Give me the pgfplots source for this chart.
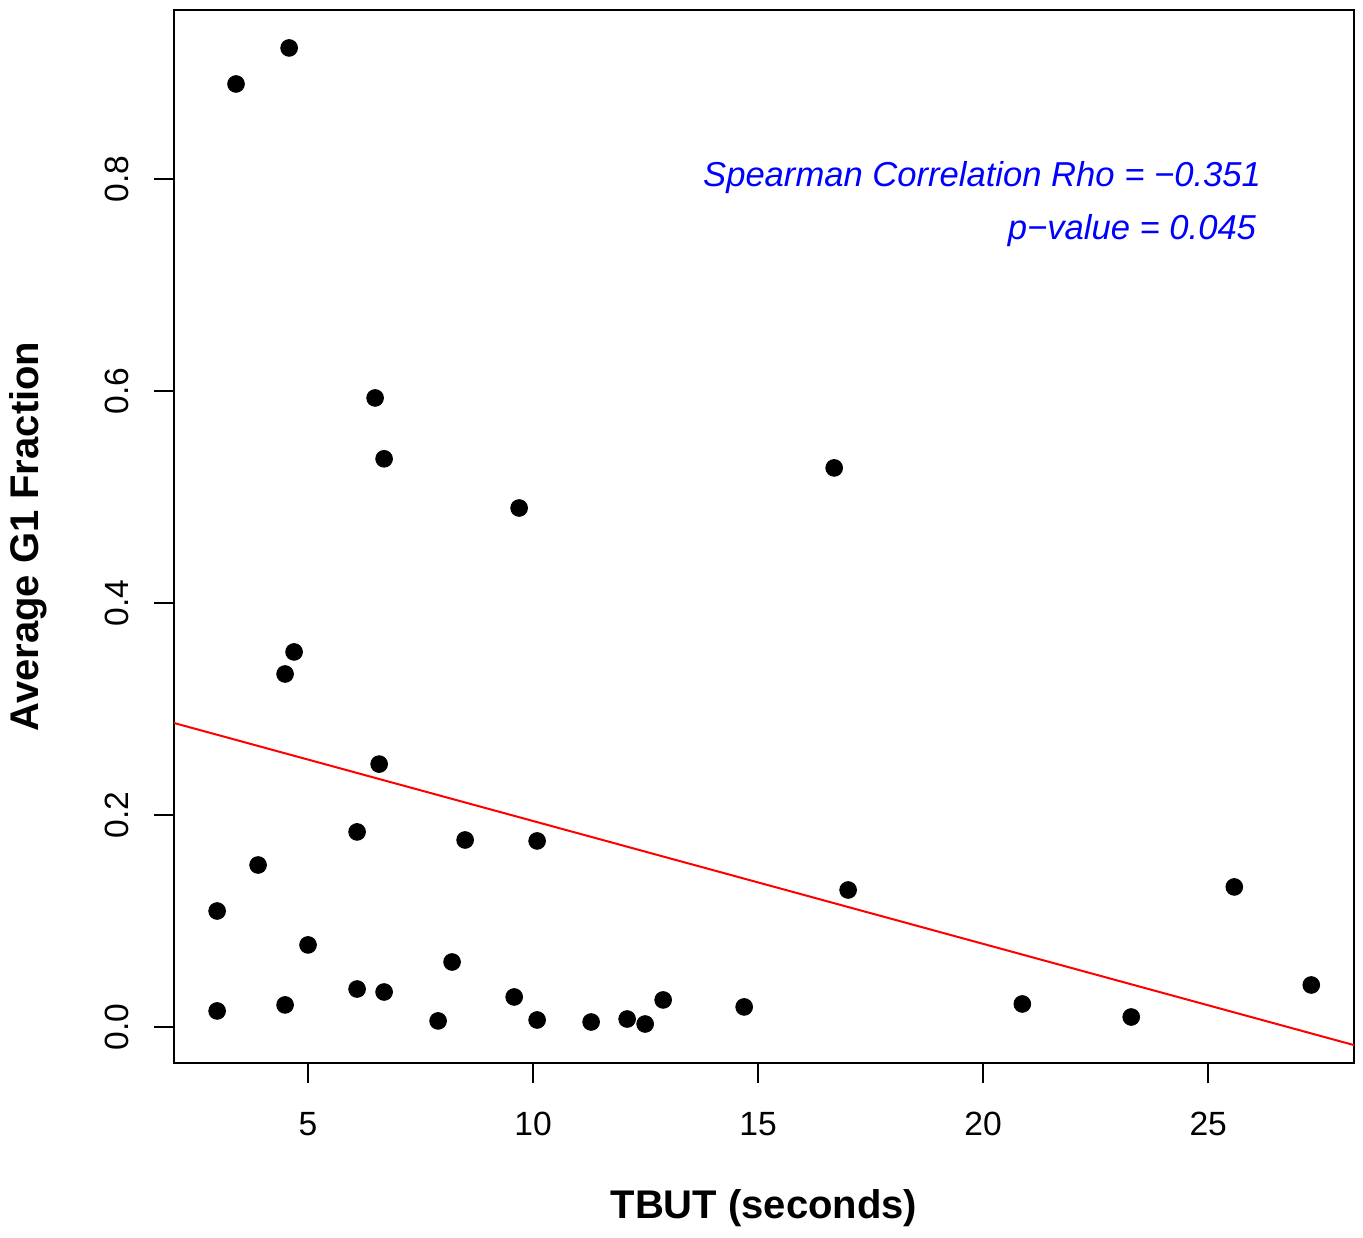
\documentclass[border=0pt]{standalone}
\usepackage{pgfplots}
\pgfplotsset{compat=1.18}
\usepackage{fontspec}
\setmainfont{Liberation Sans}
\begin{document}
\begin{tikzpicture}
\useasboundingbox (-87pt,-87pt) rectangle (594.5pt,531.5pt);
\begin{axis}[
  at={(0,0)}, anchor=south west,
  width=590pt, height=526.5pt, scale only axis,
  xmin=2.022, xmax=28.24, ymin=-0.034, ymax=0.9594,
  axis line style={line width=1.2pt},
  every tick/.style={black, line width=1.2pt},
  tick pos=left,
  tick align=outside, major tick length=10pt,
  xtick={5,10,15,20,25}, ytick={0,0.2,0.4,0.6,0.8},
  yticklabels={0.0,0.2,0.4,0.6,0.8},
  /pgf/number format/assume math mode=true,
  tick label style={font=\fontsize{16.8}{19}\selectfont},
  xticklabel style={yshift=-11pt},
  yticklabel style={rotate=90, anchor=south, yshift=9pt},
  xlabel={\textbf{TBUT (seconds)}},
  ylabel={\textbf{Average G1 Fraction}},
  xlabel style={font=\fontsize{20}{24}\selectfont, at={(axis description cs:0.5,0)}, anchor=center, yshift=-72.5pt},
  every axis y label/.style={font=\fontsize{20}{24}\selectfont, at={(axis description cs:0,0.5)}, rotate=90, anchor=center, yshift=73pt},
  clip=true,
]
\addplot[only marks, mark=*, mark size=4.2pt, black] coordinates {
(3.40,0.8896) (4.58,0.9236) (6.49,0.5934) (6.69,0.5360) (9.69,0.4896)
(16.69,0.5274) (4.69,0.3538) (4.49,0.3330) (6.58,0.2480) (6.09,0.1840)
(8.49,0.1764) (10.09,0.1755) (3.89,0.1528) (2.98,0.1094) (17.00,0.1292)
(25.58,0.1321) (5.00,0.0774) (8.20,0.0613) (6.09,0.0358) (6.69,0.0330)
(2.98,0.0151) (4.49,0.0208) (9.58,0.0283) (12.89,0.0255) (7.89,0.0057)
(10.09,0.0066) (11.29,0.0047) (12.09,0.0075) (12.49,0.0028) (14.69,0.0189)
(20.87,0.0217) (23.29,0.0094) (27.29,0.0396)
};
\addplot[red, line width=1pt] coordinates {(0,0.3102) (30,-0.0375)};
\node[anchor=east, text=blue, font=\fontsize{17.3}{20}\selectfont\itshape] at (axis cs:26.33,0.801) {Spearman Correlation Rho = −0.351};
\node[anchor=east, text=blue, font=\fontsize{17.3}{20}\selectfont\itshape] at (axis cs:26.22,0.751) {p−value = 0.045};
\end{axis}
\end{tikzpicture}
\end{document}
